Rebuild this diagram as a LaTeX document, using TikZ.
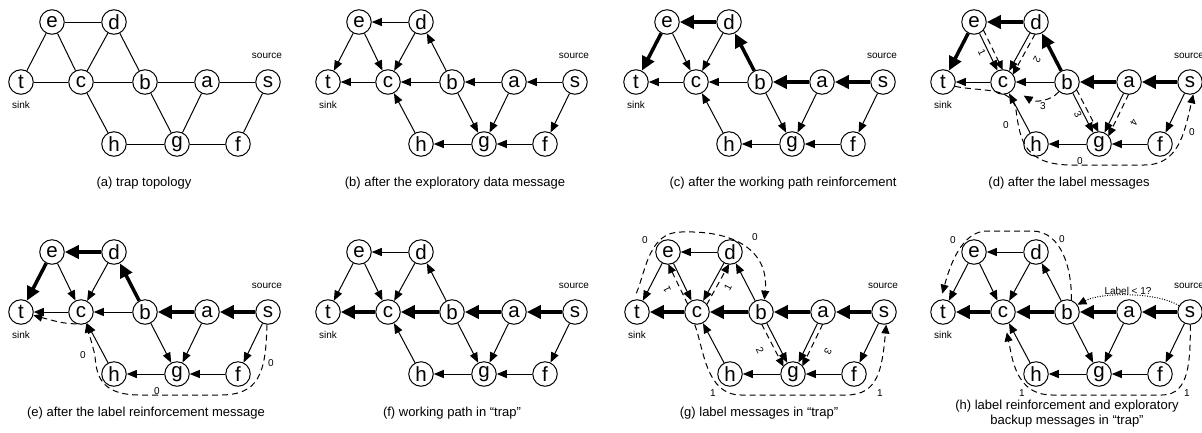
\documentclass[tikz,border=0pt]{standalone}
\usepackage{fontspec}
\setmainfont{Liberation Sans}
\usetikzlibrary{arrows.meta,calc}
\newcommand\graphnodes[1]{%
  \node[vx] (#1e) at (52,22) {e};
  \node[vx] (#1d) at (114,22) {d};
  \node[vx] (#1t) at (21,82) {t};
  \node[vx] (#1c) at (81,82) {c};
  \node[vx] (#1b) at (145,82) {b};
  \node[vx] (#1a) at (207,82) {a};
  \node[vx] (#1s) at (268,82) {s};
  \node[vx] (#1h) at (114,144) {h};
  \node[vx] (#1g) at (177,144) {g};
  \node[vx] (#1f) at (238,144) {f};
  \node[smalltxt] (#1src) at (267,56) {source};
  \node[smalltxt] (#1snk) at (21,105) {sink};
}
\newcommand\msgpar[3]{%
  \draw[msg,shorten <=11pt,shorten >=11pt] ($(#1)!#3!90:(#2)$) -- ($(#2)!#3!-90:(#1)$);}
\begin{document}
\begin{tikzpicture}[x=1pt,y=-1pt,
  vx/.style={circle,draw,line width=1pt,minimum size=24.5pt,inner sep=0pt,fill=white,font=\fontsize{20.5}{20.5}\selectfont},
  smalltxt/.style={font=\fontsize{10}{10}\selectfont,inner sep=0pt},
  captxt/.style={font=\fontsize{13}{13}\selectfont,inner sep=0pt},
  numlbl/.style={font=\fontsize{10}{10}\selectfont,inner sep=0pt},
  ln/.style={line width=1pt},
  warr/.style={line width=1pt,-{Triangle[length=10pt,width=8pt]}},
  sarr/.style={line width=3.5pt,-{Triangle[length=14pt,width=13pt]}},
  msg/.style={line width=1pt,dash pattern=on 6pt off 4pt,-{Triangle[length=9pt,width=8pt]}},
  probe/.style={line width=1pt,dash pattern=on 1pt off 1.5pt,-{Triangle[length=9pt,width=8pt]}},
]
\useasboundingbox (0,0) rectangle (1202,432);

% (a)
\begin{scope}
  \graphnodes{A}
  \foreach \u/\v in {e/d,e/t,e/c,d/c,d/b,t/c,c/b,b/a,a/s,c/h,b/g,a/g,s/f,h/g,g/f}
    \draw[ln] (A\u) -- (A\v);
\end{scope}
\node[captxt] (capA) at (144,183) {(a) trap topology};

% (b)
\begin{scope}[shift={(307,0)}]
  \graphnodes{B}
  \foreach \u/\v in {d/e,e/t,e/c,d/c,b/d,c/t,b/c,a/b,s/a,b/g,a/g,s/f,g/h,f/g,h/c}
    \draw[warr] (B\u) -- (B\v);
\end{scope}
\node[captxt] (capB) at (455,183) {(b) after the exploratory data message};

% (c)
\begin{scope}[shift={(615,0)}]
  \graphnodes{C}
  \foreach \u/\v in {e/c,d/c,c/t,b/c,h/c,b/g,a/g,s/f,g/h,f/g}
    \draw[warr] (C\u) -- (C\v);
  \foreach \u/\v in {d/e,e/t,b/d,a/b,s/a}
    \draw[sarr] (C\u) -- (C\v);
\end{scope}
\node[captxt] (capC) at (783,183) {(c) after the working path reinforcement};

% (d)
\begin{scope}[shift={(922,0)}]
  \graphnodes{D}
  \foreach \u/\v in {e/c,d/c,c/t,b/c,h/c,b/g,a/g,s/f,g/h,f/g}
    \draw[warr] (D\u) -- (D\v);
  \foreach \u/\v in {d/e,e/t,b/d,a/b,s/a}
    \draw[sarr] (D\u) -- (D\v);
  \msgpar{De}{Dc}{5pt}
  \msgpar{Dd}{Dc}{5pt}
  \msgpar{Db}{Dg}{5pt}
  \msgpar{Da}{Dg}{5pt}
  \draw[msg,shorten >=12pt] (Db.-130) .. controls (128,102) and (112,102) .. (Dc.-35);
  \draw[msg] (Dt.-20) .. controls (60,92) and (90,86) .. (94,110)
     .. controls (98,140) and (102,165) .. (150,165) -- (222,165)
     .. controls (256,165) and (262,135) .. (Ds.-75);
  \node[numlbl,rotate=-64] (Dl1) at (60,52) {1};
  \node[numlbl,rotate=-119] (Dl2) at (115,60) {2};
  \node[numlbl] (Dl3) at (121,106) {3};
  \node[numlbl,rotate=-63] (Dl4) at (156,114) {3};
  \node[numlbl,rotate=-116] (Dl5) at (212,123) {4};
  \node[numlbl] (Dl6) at (84,125) {0};
  \node[numlbl] (Dl7) at (158,161) {0};
  \node[numlbl] (Dl8) at (270,132) {0};
\end{scope}
\node[captxt] (capD) at (1069,183) {(d) after the label messages};

% (e)
\begin{scope}[shift={(0,230)}]
  \graphnodes{E}
  \foreach \u/\v in {e/c,d/c,c/t,b/c,h/c,b/g,a/g,s/f,g/h,f/g}
    \draw[warr] (E\u) -- (E\v);
  \foreach \u/\v in {d/e,e/t,b/d,a/b,s/a}
    \draw[sarr] (E\u) -- (E\v);
  \draw[msg] (Es.-95) .. controls (266,145) and (258,165) .. (220,165) -- (140,165)
     .. controls (105,165) and (96,150) .. (95,125) -- (Ec.-65);
  \draw[msg] (Ec.-110) .. controls (62,93) .. (Et.-15);
  \node[numlbl] (El1) at (83,125) {0};
  \node[numlbl] (El2) at (157,161) {0};
  \node[numlbl] (El3) at (271,133) {0};
\end{scope}
\node[captxt] (capE) at (146,413) {(e) after the label reinforcement message};

% (f)
\begin{scope}[shift={(307,230)}]
  \graphnodes{F}
  \foreach \u/\v in {d/e,e/t,e/c,d/c,b/d,h/c,b/g,a/g,s/f,g/h,f/g}
    \draw[warr] (F\u) -- (F\v);
  \foreach \u/\v in {c/t,b/c,a/b,s/a}
    \draw[sarr] (F\u) -- (F\v);
\end{scope}
\node[captxt] (capF) at (452,413) {(f) working path in “trap”};

% (g)
\begin{scope}[shift={(616,230)}]
  \graphnodes{G}
  \foreach \u/\v in {d/e,e/t,e/c,d/c,b/d,h/c,b/g,a/g,s/f,g/h,f/g}
    \draw[warr] (G\u) -- (G\v);
  \foreach \u/\v in {c/t,b/c,a/b,s/a}
    \draw[sarr] (G\u) -- (G\v);
  \draw[msg,shorten <=7pt] (Gt.105) .. controls (30,40) and (33,2) .. (65,2)
     .. controls (125,0) and (153,25) .. (Gb.75);
  \msgpar{Gc}{Ge}{5pt}
  \msgpar{Gc}{Gd}{-5pt}
  \msgpar{Gb}{Gg}{-5pt}
  \msgpar{Ga}{Gg}{5pt}
  \draw[msg] (Gc.-100) .. controls (88,120) and (90,165) .. (125,165) -- (230,165)
     .. controls (262,165) and (266,140) .. (Gs.-80);
  \node[numlbl] (Gl1) at (29,10) {0};
  \node[numlbl] (Gl2) at (139,7) {0};
  \node[numlbl,rotate=116] (Gl3) at (51,60) {1};
  \node[numlbl,rotate=61] (Gl4) at (112,57) {1};
  \node[numlbl,rotate=-63] (Gl5) at (144,120) {2};
  \node[numlbl,rotate=-116] (Gl6) at (212,122) {3};
  \node[numlbl] (Gl7) at (97,163) {1};
  \node[numlbl] (Gl8) at (264,163) {1};
\end{scope}
\node[captxt] (capG) at (759,413) {(g) label messages in “trap”};

% (h)
\begin{scope}[shift={(922,230)}]
  \graphnodes{H}
  \foreach \u/\v in {d/e,e/t,e/c,d/c,b/d,h/c,b/g,a/g,s/f,g/h,f/g}
    \draw[warr] (H\u) -- (H\v);
  \foreach \u/\v in {c/t,b/c,a/b,s/a}
    \draw[sarr] (H\u) -- (H\v);
  \draw[msg,shorten >=6pt] (Hb.70) .. controls (150,40) and (140,1) .. (110,1) -- (65,1)
     .. controls (40,1) and (28,35) .. (Ht.100);
  \draw[probe] (Hs.150) .. controls (235,62) and (180,62) .. (Hb.35);
  \node[smalltxt,anchor=base] (Hq) at (206,64) {Label < 1?};
  \draw[msg,shorten >=8pt] (Hs.-88) .. controls (268,130) and (268,165) .. (240,165) -- (130,165)
     .. controls (100,165) and (92,140) .. (88,118) -- (Hc.-80);
  \node[numlbl] (Hl1) at (31,10) {0};
  \node[numlbl] (Hl2) at (140,9) {0};
  \node[numlbl] (Hl3) at (100,163) {1};
  \node[numlbl] (Hl4) at (265,163) {1};
\end{scope}
\node[captxt] (capH1) at (1067,406) {(h) label reinforcement and exploratory};
\node[captxt] (capH2) at (1067,421) {backup messages in “trap”};
\end{tikzpicture}
\end{document}
